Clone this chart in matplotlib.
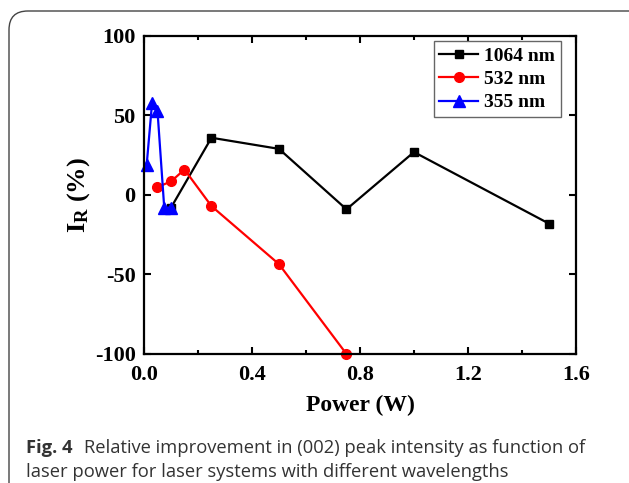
import matplotlib
matplotlib.use('Agg')
import matplotlib.pyplot as plt
from matplotlib.patches import FancyBboxPatch

# data
x_1064 = [0.10, 0.25, 0.50, 0.75, 1.00, 1.50]
y_1064 = [-8, 36, 29, -9, 27, -18]

x_532 = [0.05, 0.10, 0.15, 0.25, 0.50, 0.75]
y_532 = [5, 8.5, 16, -7, -43.5, -100]

x_355 = [0.01, 0.03, 0.05, 0.075, 0.10]
y_355 = [19, 58, 53, -8, -8]

x_ticks = [0.0, 0.4, 0.8, 1.2, 1.6]
y_ticks = [-100, -50, 0, 50, 100]

caption_bold = 'Fig. 4'
caption_1 = 'Relative improvement in (002) peak intensity as function of'
caption_2 = 'laser power for laser systems with different wavelengths'

plt.rcParams['font.family'] = 'Liberation Serif'
plt.rcParams['font.weight'] = 'bold'
plt.rcParams['axes.unicode_minus'] = False
plt.rcParams['mathtext.fontset'] = 'custom'
plt.rcParams['mathtext.bf'] = 'Liberation Serif:bold'
plt.rcParams['mathtext.rm'] = 'Liberation Serif:bold'

fig = plt.figure(figsize=(6.29, 4.83), dpi=100)
ax = fig.add_axes([0.2289, 0.2671, 0.6868, 0.6584])

ax.plot(x_1064, y_1064, color='black', lw=1.6, marker='s', ms=6, label='1064 nm')
ax.plot(x_532, y_532, color='red', lw=1.6, marker='o', ms=7, label='532 nm', clip_on=False)
ax.plot(x_355, y_355, color='blue', lw=1.6, marker='^', ms=8, label='355 nm', clip_on=False)

ax.set_xlim(0, 1.6)
ax.set_ylim(-100, 100)
ax.set_xticks(x_ticks)
ax.set_xticklabels(['%.1f' % v for v in x_ticks])
ax.set_xticks([0.2, 0.6, 1.0, 1.4], minor=True)
ax.set_yticks(y_ticks)
ax.tick_params(which='both', direction='in', top=True, right=True, labelsize=16, width=1.5)
ax.tick_params(which='major', length=5)
ax.tick_params(axis='x', which='major', pad=8)
ax.tick_params(axis='y', which='major', pad=6)
ax.tick_params(which='minor', length=3)
for s in ax.spines.values():
    s.set_linewidth(1.6)

ax.set_xlabel('Power (W)', fontsize=17, fontweight='bold', labelpad=7)
ax.set_ylabel(r'$\mathbf{I_R}$ (%)', fontsize=19, fontweight='bold', labelpad=2)

leg = ax.legend(loc='upper right', bbox_to_anchor=(0.965, 0.984), borderaxespad=0,
                fontsize=14, fancybox=False, edgecolor='#666666', framealpha=1,
                handlelength=2.0, handletextpad=0.3, borderpad=0.3, labelspacing=0.3)
leg.get_frame().set_linewidth(1.0)

# caption frame with rounded corner, running off the right and bottom edges
box = FancyBboxPatch((9 / 629, -0.1), 1.2, 1 - 11 / 483 + 0.1,
                     boxstyle='round,pad=0,rounding_size=0.03',
                     transform=fig.transFigure, fill=False, edgecolor='#444444',
                     lw=1.0, clip_on=False, mutation_aspect=629 / 483)
fig.patches.append(box)

fig.text(26 / 629, 1 - 448 / 483, caption_bold, family='Open Sans', fontweight='bold',
         fontsize=13.2, color='#333333', va='center')
fig.text(84 / 629, 1 - 448 / 483, caption_1, family='Open Sans', fontweight='normal',
         fontsize=13.2, color='#333333', va='center')
fig.text(26 / 629, 1 - 472 / 483, caption_2, family='Open Sans', fontweight='normal',
         fontsize=13.2, color='#333333', va='center')

fig.savefig('out.png', dpi=100)
